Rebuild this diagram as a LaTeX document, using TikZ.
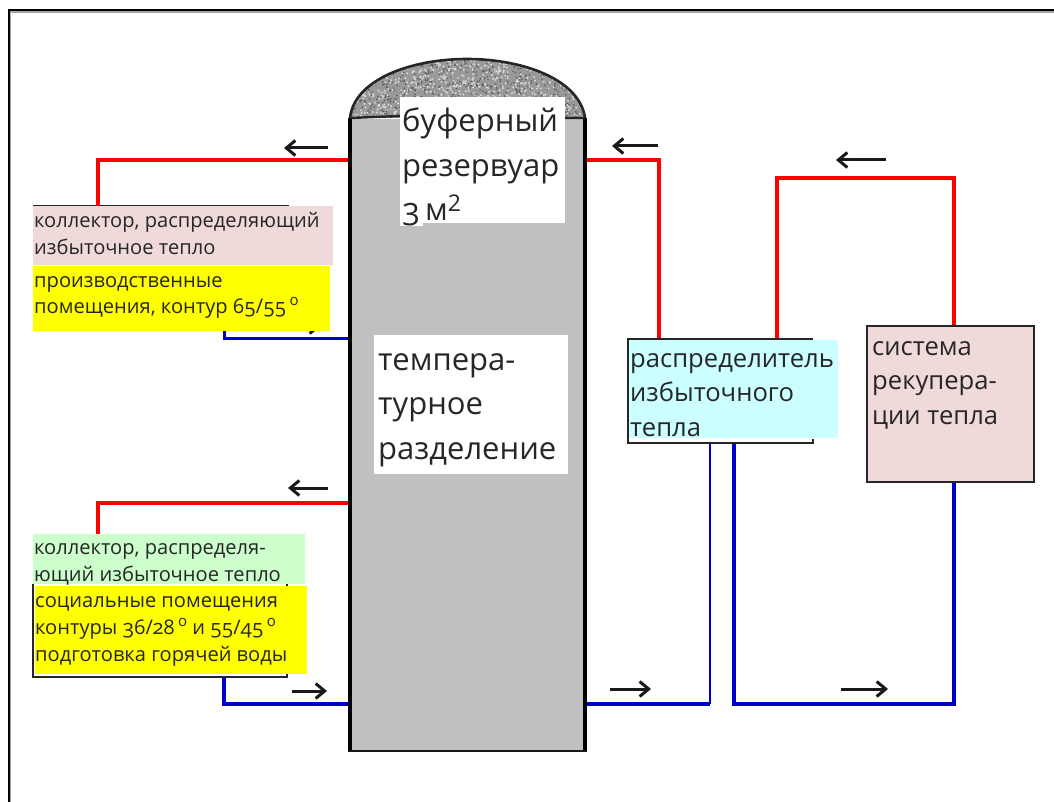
\documentclass[tikz,border=0pt]{standalone}
\usepackage{fontspec}
\setmainfont[Numbers=OldStyle]{Open Sans}
\usetikzlibrary{arrows.meta}
\definecolor{tankgray}{RGB}{192,192,192}
\definecolor{hot}{RGB}{255,0,0}
\definecolor{cold}{RGB}{0,0,204}
\definecolor{pinkbox}{RGB}{240,217,217}
\definecolor{greenbox}{RGB}{204,255,204}
\definecolor{cyanbox}{RGB}{204,255,255}
\definecolor{yellowbox}{RGB}{255,255,0}
\newcommand{\degmark}{\raisebox{0.42em}{\fontsize{15}{15}\selectfont o}}
\tikzset{
  x=1pt,y=-1pt,
  hotline/.style={draw=hot,line width=3.6pt},
  coldline/.style={draw=cold,line width=3.6pt},
  flow/.style={draw=black!90,line width=3pt,-{Straight Barb[length=9pt,width=15pt,line width=3pt]}},
  frameline/.style={draw=black!85,line width=2pt},
  patch/.style={inner sep=0pt,outer sep=0pt},
  lbl/.style={inner sep=0pt,anchor=north west,align=left,text=black!85},
  big/.style={lbl,font=\fontsize{31}{44.5}\selectfont},
  mid/.style={lbl,font=\fontsize{25.6}{34.5}\selectfont},
  small/.style={lbl,font=\fontsize{20.1}{26.8}\selectfont},
}
\begin{document}
\begin{tikzpicture}
\useasboundingbox (0,0) rectangle (1054,802);
\fill[white] (0,0) rectangle (1054,802);
\draw[black!35,line width=1.5pt] (10,802) -- (10,12) -- (1054,12);
\draw[black,line width=1.5pt] (9,802) -- (9,10) -- (1054,10);
% anchors on the tank
\coordinate (tl1) at (350,160);
\coordinate (tl2) at (350,338);
\coordinate (tl3) at (350,503);
\coordinate (tl4) at (350,704);
\coordinate (tr1) at (585,160);
\coordinate (tr2) at (585,704);
% connectors
\coordinate (c1) at (98,160);
\coordinate (c2) at (224,338);
\coordinate (c3) at (98,503);
\coordinate (c4) at (224,704);
\coordinate (c5) at (659,160);
\coordinate (c6) at (710,704);
\coordinate (c7) at (734,704);
\coordinate (c8) at (954,704);
\coordinate (c9) at (777,178);
\coordinate (c10) at (954,178);
% boxes (outlines behind the colour patches)
\draw[frameline] (33,206) -- (289,206);
\draw[frameline] (33,677) -- (33,584) (287,584) -- (287,677) -- (33,677);
\draw[hotline] (tl1) -- (c1) -- (98,206);
\draw[coldline,line width=3pt] (tl2) -- (c2) -- (224,330);
\draw[hotline] (tl3) -- (c3) -- (98,534);
\draw[coldline] (tl4) -- (c4) -- (224,677);
\draw[hotline] (tr1) -- (c5) -- (659,339);
\draw[coldline] (tr2) -- (c6);
\draw[coldline,line width=2pt] (c6) -- (710,443);
\draw[coldline] (734,443) -- (c7) -- (c8) -- (954,481);
\draw[hotline,line width=3.2pt] (777,339) -- (c9) -- (c10) -- (954,326);
% arrow whose tip shows just below the yellow patch
\coordinate (a8s) at (285,326); \coordinate (a8e) at (321,326);
\draw[flow] (a8s) -- (a8e);
% tank
\begin{scope}
\clip (350,118) .. controls (354,80) and (410,59) .. (467,59) .. controls (524,59) and (580,80) .. (585,118) -- cycle;
\fill[black!40] (345,55) rectangle (590,125);
\pgfmathsetseed{7}
\foreach \i in {1,...,1500}{
  \pgfmathsetmacro{\px}{350+235*rnd}
  \pgfmathsetmacro{\py}{58+62*rnd}
  \ifodd\i \fill[white!85!black] (\px,\py) circle (1.1pt);
  \else \fill[black!65] (\px,\py) circle (0.9pt); \fi
}
\end{scope}
\draw[black!85,line width=2.6pt] (350,118) .. controls (354,80) and (410,59) .. (467,59) .. controls (524,59) and (580,80) .. (585,118);
\fill[tankgray] (350,119) rectangle (585,751);
\draw[black,line width=3.6pt] (350,118) -- (350,751) (585,751) -- (585,118);
\draw[black!90,line width=2.4pt] (348,751) -- (587,751);
\draw[black!85,line width=2.4pt] (350,118) -- (400,116) (565,118) -- (585,118);
% colour patches and texts
\node[patch,fill=white,minimum width=165pt,minimum height=126pt] (buf) at (482.5,160) {};
\fill[white] (400,222) rectangle (423,226);
\node[big] (buft) at (402,108) {буферный\\резервуар\\3\,м\raisebox{0.3em}{\addfontfeature{Numbers=Lining}\fontsize{23}{23}\selectfont 2}};
\node[patch,fill=white,minimum width=194pt,minimum height=139pt] (sep) at (470.5,404.5) {};
\node[big] (sept) at (378,353) {темпера-\\турное\\разделение};
\node[patch,fill=pinkbox,minimum width=300pt,minimum height=59pt] (col1) at (183,236) {};
\node[small] (col1t) at (34,212) {коллектор, распределяющий\\избыточное тепло};
\node[patch,fill=yellowbox,minimum width=297pt,minimum height=65pt] (prod) at (181.5,298.5) {};
\node[small] (prodt) at (34,276) {производственные\\помещения, контур 65/55\,\degmark};
\node[patch,fill=greenbox,minimum width=272pt,minimum height=50pt] (col2) at (169,559) {};
\node[small] (col2t) at (34,543.6) {коллектор, распределя-\\ющий избыточное тепло};
\node[patch,fill=yellowbox,minimum width=272pt,minimum height=88pt] (soc) at (171,630) {};
\node[small] (soct) at (35,596.5) {социальные помещения\\контуры 36/28\,\degmark\ и 55/45\,\degmark\\подготовка горячей воды};
\draw[frameline] (33,584) -- (33,677) -- (287,677);
% right boxes
\node[patch,fill=cyanbox,minimum width=209pt,minimum height=98pt] (dist) at (733.5,389) {};
\draw[black!85,line width=2pt] (813,339) -- (628,339) -- (628,443) -- (813,443) -- (813,439);
\node[mid] (distt) at (630,353) {распределитель\\избыточного\\тепла};
\node[patch,draw=black!85,line width=2pt,fill=pinkbox,minimum width=167pt,minimum height=156pt] (rec) at (950,403.5) {};
\node[mid] (rect) at (872,341) {система\\рекупера-\\ции тепла};
% flow arrows
\coordinate (a1s) at (328,148); \coordinate (a1e) at (284,148);
\coordinate (a2s) at (328,488); \coordinate (a2e) at (288,488);
\coordinate (a3s) at (658,146); \coordinate (a3e) at (612,146);
\coordinate (a4s) at (886,160); \coordinate (a4e) at (836,160);
\coordinate (a5s) at (292,691); \coordinate (a5e) at (327,691);
\coordinate (a6s) at (610,689); \coordinate (a6e) at (651,689);
\coordinate (a7s) at (841,689); \coordinate (a7e) at (888,689);
\foreach \s/\e in {a1s/a1e,a2s/a2e,a3s/a3e,a4s/a4e,a5s/a5e,a6s/a6e,a7s/a7e}
  \draw[flow] (\s) -- (\e);
\end{tikzpicture}
\end{document}
